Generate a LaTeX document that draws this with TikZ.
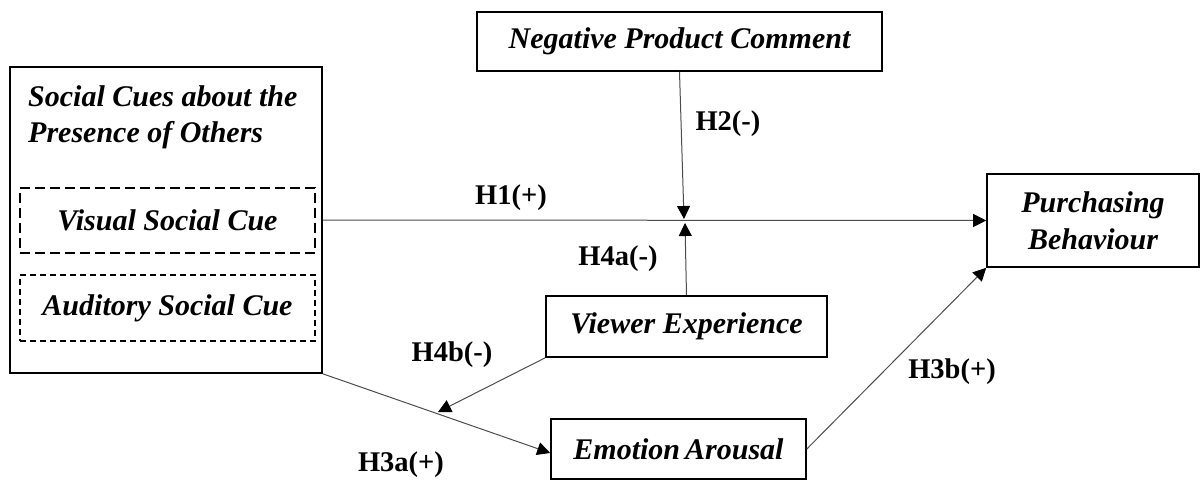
\documentclass[tikz,border=0pt]{standalone}
\usepackage{fontspec}
\setmainfont{Liberation Serif}
\usetikzlibrary{arrows.meta,calc}
\begin{document}
\begin{tikzpicture}[x=1pt,y=-1pt,
  box/.style={draw=black,line width=1.6pt,inner sep=0pt,align=center,
    font=\fontsize{30}{37}\selectfont\bfseries\itshape},
  dboxlong/.style={box,line width=1.4pt,dash pattern=on 10pt off 5pt},
  dboxshort/.style={box,line width=1.4pt,dash pattern=on 6pt off 4pt},
  conn/.style={draw=black!70,line width=1pt,-{Triangle[length=13pt,width=13pt,color=black]}},
  lab/.style={inner sep=0pt,font=\fontsize{28.5}{34}\selectfont\bfseries}]
\useasboundingbox (0,0) rectangle (1200,480);

% boxes
\node[box,minimum width=312pt,minimum height=306pt] (sc) at (166,220) {};
\node[inner sep=0pt,anchor=north west,align=left,
  font=\fontsize{30}{36}\selectfont\bfseries\itshape] (sct) at (28,85)
  {Social Cues about the\\Presence of Others};
\node[dboxlong,minimum width=295pt,minimum height=65pt] (vis) at (167.5,220.5) {Visual Social Cue};
\node[dboxshort,minimum width=295pt,minimum height=66pt] (aud) at (167.5,308) {Auditory Social Cue};
\node[box,minimum width=405pt,minimum height=59pt] (npc) at (679.5,41.5) {Negative Product Comment};
\node[box,minimum width=212pt,minimum height=93pt] (pb) at (1093,220.5) {Purchasing\\Behaviour};
\node[box,minimum width=281pt,minimum height=61pt] (ve) at (686.5,326.5) {Viewer Experience};
\node[box,minimum width=255pt,minimum height=60pt] (ea) at (678.5,449) {Emotion\,Arousal};

% free ends on paths
\coordinate (m1) at (684,219);
\coordinate (m2) at (685,223);
\coordinate (m3) at (438,412);

% connectors
\draw[conn] (sc.east) -- (pb.west);
\draw[conn] (npc.south) -- (m1);
\draw[conn] (ve.north) -- (m2);
\draw[conn] (ve.south west) -- (m3);
\draw[conn] (sc.south east) -- ([yshift=-4pt]ea.west);
\draw[conn] (ea.east) -- (pb.south west);

% labels
\node[lab] (l1) at (511,198) {H1(+)};
\node[lab] (l2) at (728,124) {H2(-)};
\node[lab] (l4a) at (618,259) {H4a(-)};
\node[lab] (l4b) at (452,355) {H4b(-)};
\node[lab] (l3a) at (401,465) {H3a(+)};
\node[lab] (l3b) at (952,372) {H3b(+)};
\end{tikzpicture}
\end{document}
